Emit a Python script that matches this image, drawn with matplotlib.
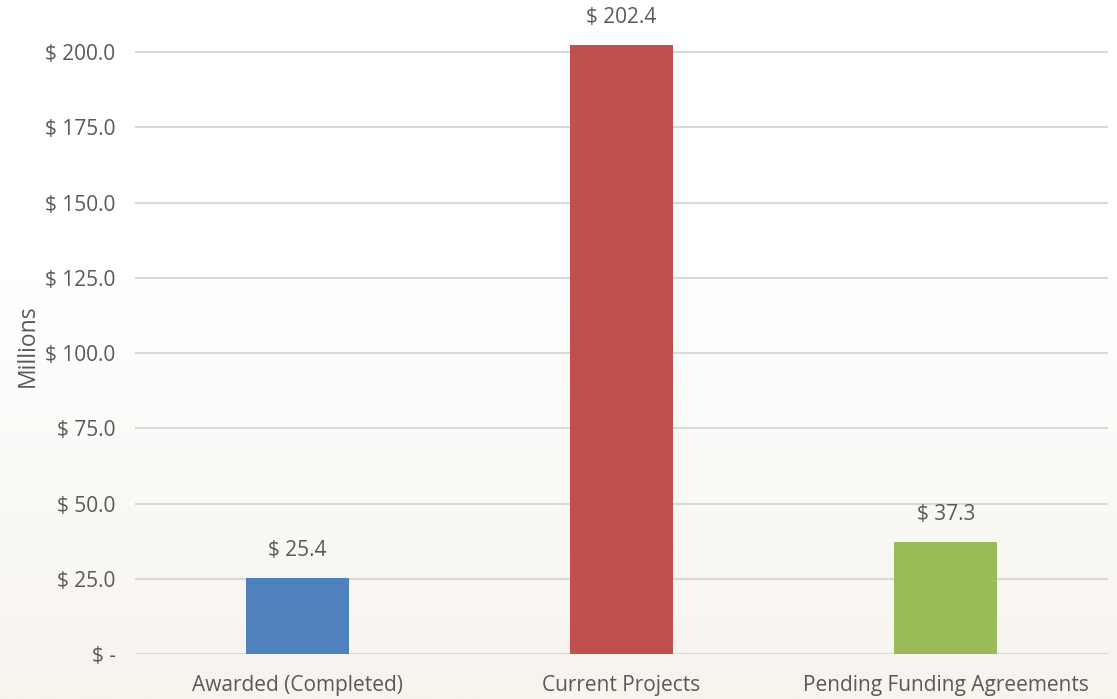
import numpy as np
import matplotlib.pyplot as plt

categories = ['Awarded (Completed)', 'Current Projects', 'Pending Funding Agreements']
values = [25.4, 202.4, 37.3]
colors = ['#4f81bd', '#c0504d', '#9bbb59']
yticks = [0, 25, 50, 75, 100, 125, 150, 175, 200]

plt.rcParams['font.family'] = ['Open Sans', 'DejaVu Sans']
txt = '#595959'

fig = plt.figure(figsize=(11.17, 6.99), dpi=100)

# soft white-to-beige background
bg = fig.add_axes([0, 0, 1, 1], zorder=-1)
t = np.clip((np.linspace(0, 1, 256) - 0.4) / 0.6, 0, 1)[:, None]
top = np.array([255, 255, 255]) / 255
bot = np.array([247, 244, 238]) / 255
grad = top + t[..., None] * (bot - top)
bg.imshow(grad, aspect='auto', extent=[0, 1, 0, 1], origin='upper')
bg.axis('off')

ax = fig.add_axes([135 / 1117, 45 / 699, 973 / 1117, 654 / 699])
ax.set_facecolor('none')
x = np.arange(len(categories))
ax.bar(x, values, width=0.317, color=colors, zorder=3)
for xi, v in zip(x, values):
    ax.annotate('$ {:.1f}'.format(v), (xi, v), xytext=(0, 19.5), textcoords='offset points',
                ha='center', va='center', fontsize=15, color=txt)

ax.set_xlim(-0.5, 2.5)
ax.set_ylim(0, 654 / 3.01)
ax.set_yticks(yticks)
ax.set_yticklabels(['$ -' if v == 0 else '$ {:.1f}'.format(v) for v in yticks])
ax.set_xticks(x)
ax.set_xticklabels(categories)
ax.tick_params(axis='both', length=0, labelsize=15, labelcolor=txt)
ax.tick_params(axis='y', pad=14)
ax.tick_params(axis='x', pad=15)
ax.grid(axis='y', color='#d9d9d9', linewidth=1.5, zorder=0)
for s in ax.spines.values():
    s.set_visible(False)
ax.set_ylabel('Millions', fontsize=16.5, color=txt, va='center')
ax.yaxis.set_label_coords(-0.11, 0.472)

fig.savefig('out.png', dpi=100)
